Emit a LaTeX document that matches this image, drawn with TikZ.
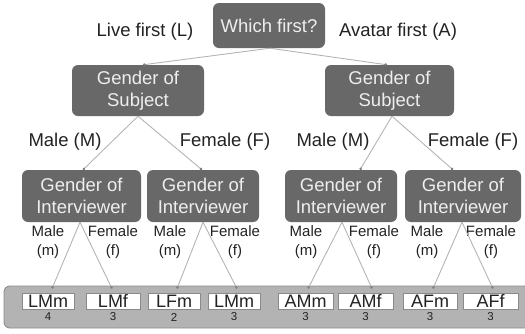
\documentclass[tikz,border=0pt]{standalone}
\usepackage{fontspec}
\setmainfont{Liberation Sans}
\usetikzlibrary{arrows.meta}
\definecolor{boxgray}{HTML}{686868}
\definecolor{boxtext}{HTML}{EEEEEE}
\definecolor{linegray}{HTML}{B4B4B4}
\definecolor{dotgray}{HTML}{808080}
\definecolor{bandfill}{HTML}{B3B3B3}
\definecolor{bandline}{HTML}{8C8C8C}
\definecolor{labtext}{HTML}{222222}
\definecolor{leafline}{HTML}{8A8A8A}
\tikzset{
  dbox/.style={rectangle, rounded corners=6pt, fill=boxgray, text=boxtext, align=center,
    inner sep=0pt, font=\fontsize{18.5}{22}\selectfont},
  lab/.style={text=labtext, inner sep=0pt, font=\fontsize{18.5}{22}\selectfont},
  slab/.style={text=labtext, inner sep=0pt, align=center, font=\fontsize{15}{18.5}\selectfont},
  leaf/.style={rectangle, draw=leafline, fill=white, line width=0.8pt, inner sep=0pt,
    minimum height=16pt, text height=13pt, text depth=0pt, text=labtext,
    font=\fontsize{18}{18}\selectfont},
  num/.style={text=labtext, inner sep=0pt, font=\fontsize{11.5}{11.5}\selectfont},
  edge/.style={draw=linegray, line width=0.9pt, -{Circle[length=2.6pt, color=dotgray, fill=dotgray]}},
}
\begin{document}
\begin{tikzpicture}[x=1pt, y=-1pt]
\useasboundingbox (0,0) rectangle (525,333);
\clip (0,0) rectangle (525,333);
% bottom band
\draw[fill=bandfill, draw=bandline, line width=0.9pt, rounded corners=6pt] (4,286) rectangle (535,328);
% boxes
\node[dbox, minimum width=112pt, minimum height=45pt] (top) at (269,25.5) {Which first?};
\node[dbox, minimum width=132pt, minimum height=51pt] (gsL) at (138,90.5) {Gender of\\Subject};
\node[dbox, minimum width=129pt, minimum height=51pt] (gsR) at (389.5,90.5) {Gender of\\Subject};
\node[dbox, minimum width=119pt, minimum height=52pt] (gi1) at (81.5,196) {Gender of\\Interviewer};
\node[dbox, minimum width=112pt, minimum height=52pt] (gi2) at (203,196) {Gender of\\Interviewer};
\node[dbox, minimum width=112pt, minimum height=52pt] (gi3) at (341,196) {Gender of\\Interviewer};
\node[dbox, minimum width=116pt, minimum height=52pt] (gi4) at (463,196) {Gender of\\Interviewer};
% labels
\node[lab] (lL) at (145,32) {Live first (L)};
\node[lab] (lA) at (398,32) {Avatar first (A)};
\node[lab] (m1) at (65,142) {Male (M)};
\node[lab] (f1) at (225,142) {Female (F)};
\node[lab] (m2) at (333,142) {Male (M)};
\node[lab] (f2) at (473,142) {Female (F)};
\node[slab] (s1m) at (48,242) {Male\\(m)};
\node[slab] (s1f) at (113,242) {Female\\(f)};
\node[slab] (s2m) at (170,242) {Male\\(m)};
\node[slab] (s2f) at (235,242) {Female\\(f)};
\node[slab] (s3m) at (306,242) {Male\\(m)};
\node[slab] (s3f) at (374,242) {Female\\(f)};
\node[slab] (s4m) at (427,242) {Male\\(m)};
\node[slab] (s4f) at (491,242) {Female\\(f)};
% leaves
\node[leaf, minimum width=52pt] (l1) at (48,301) {LMm};
\node[leaf, minimum width=54pt] (l2) at (113,301) {LMf};
\node[leaf, minimum width=52pt] (l3) at (174,301) {LFm};
\node[leaf, minimum width=52pt] (l4) at (234,301) {LMm};
\node[leaf, minimum width=55pt] (l5) at (305.5,301) {AMm};
\node[leaf, minimum width=55pt] (l6) at (365.5,301) {AMf};
\node[leaf, minimum width=54pt] (l7) at (430,301) {AFm};
\node[leaf, minimum width=55pt] (l8) at (490.5,301) {AFf};
\node[num] (n1) at (48,317) {4};
\node[num] (n2) at (113,317) {3};
\node[num] (n3) at (174,317) {2};
\node[num] (n4) at (234,317) {3};
\node[num] (n5) at (305.5,317) {3};
\node[num] (n6) at (365.5,317) {3};
\node[num] (n7) at (430,317) {3};
\node[num] (n8) at (490.5,317) {3};
% edges
\draw[edge] ([xshift=1pt]top.south) -- ([xshift=5pt]gsL.north);
\draw[edge] ([xshift=1pt]top.south) -- ([xshift=-2.5pt]gsR.north);
\draw[edge] (gsL.south) -- ([xshift=1.5pt]gi1.north);
\draw[edge] (gsL.south) -- ([xshift=-1pt]gi2.north);
\draw[edge] ([xshift=2.5pt]gsR.south) -- ([xshift=19pt]gi3.north);
\draw[edge] ([xshift=2.5pt]gsR.south) -- ([xshift=-10pt]gi4.north);
\draw[edge] ([xshift=-1.5pt]gi1.south) -- ([xshift=4pt,yshift=4pt]l1.north);
\draw[edge] ([xshift=-1.5pt]gi1.south) -- ([xshift=-1pt,yshift=4pt]l2.north);
\draw[edge] (gi2.south) -- ([xshift=3pt,yshift=4pt]l3.north);
\draw[edge] (gi2.south) -- ([xshift=3pt,yshift=4pt]l4.north);
\draw[edge] ([xshift=1pt]gi3.south) -- ([xshift=2.5pt,yshift=4pt]l5.north);
\draw[edge] ([xshift=1pt]gi3.south) -- ([xshift=6.5pt,yshift=4pt]l6.north);
\draw[edge] ([xshift=-1pt]gi4.south) -- ([xshift=3pt,yshift=4pt]l7.north);
\draw[edge] ([xshift=-1pt]gi4.south) -- ([xshift=2.5pt,yshift=4pt]l8.north);
\end{tikzpicture}
\end{document}
